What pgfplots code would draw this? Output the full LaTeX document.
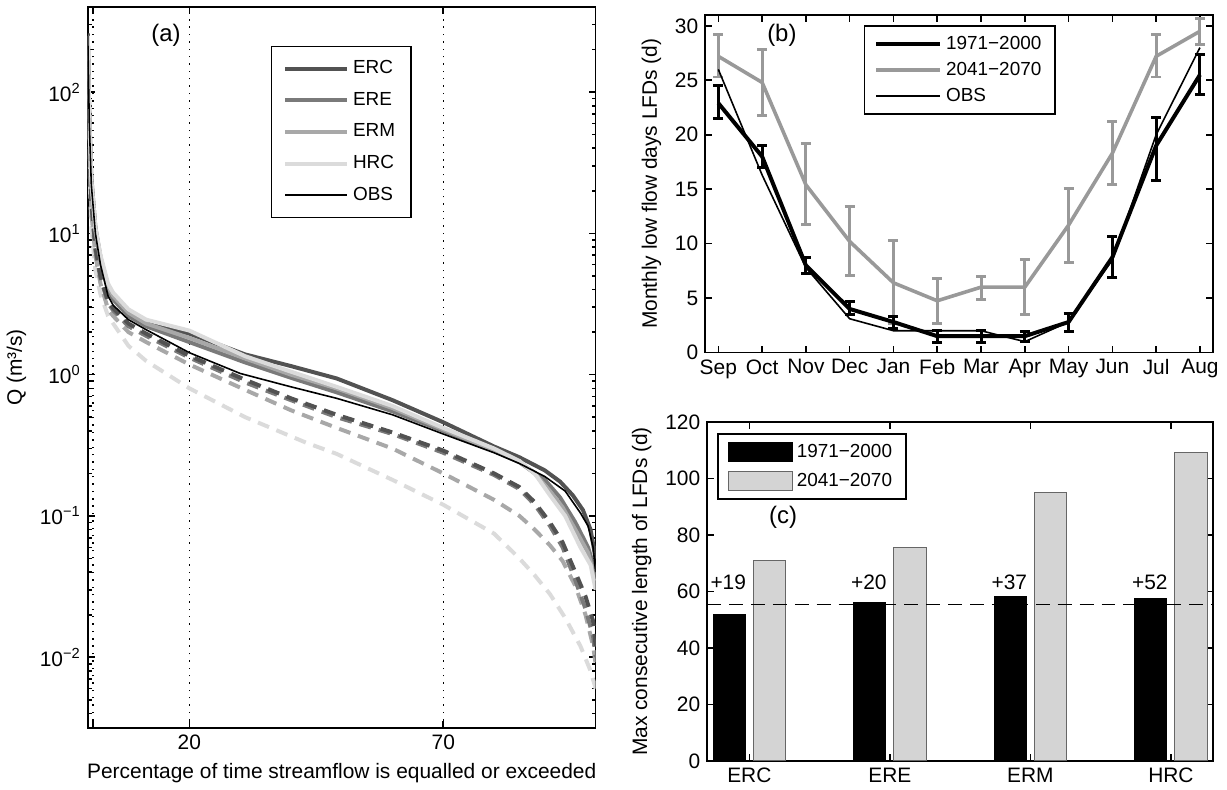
\documentclass[border=0pt]{standalone}
\usepackage{fontspec}
\setmainfont{Liberation Sans}
\usepackage{pgfplots}
\usepackage{pgfplotstable}
\pgfplotsset{compat=1.18}

\definecolor{cERC}{gray}{0.32}
\definecolor{cERE}{gray}{0.48}
\definecolor{cERM}{gray}{0.66}
\definecolor{cHRC}{gray}{0.86}
\definecolor{cfut}{gray}{0.60}
\definecolor{barg}{gray}{0.83}

\newcommand\fa{\fontsize{10.5}{12}\selectfont}
\newcommand\fl{\fontsize{9.5}{11}\selectfont}

% panel (b) data: x, value, error plus, error minus
\pgfplotstableread{
x y ep em
1 22.9 1.6 1.4
2 18.0 1.0 1.0
3 8.0 0.7 0.75
4 4.0 0.65 0.55
5 2.8 0.5 0.6
6 1.5 0.5 0.6
7 1.5 0.5 0.6
8 1.5 0.4 0.5
9 2.8 0.8 0.9
10 8.75 1.9 1.9
11 19.0 2.6 3.2
12 25.5 1.9 1.8
}\tabhist
\pgfplotstableread{
x y ep em
1 27.2 2.0 1.9
2 24.8 3.0 3.05
3 15.4 3.8 3.6
4 10.2 3.2 3.1
5 6.4 3.9 3.7
6 4.75 2.05 2.05
7 6.0 1.0 1.1
8 6.0 2.5 2.55
9 11.7 3.4 3.4
10 18.3 2.9 2.9
11 27.2 2.0 1.9
12 29.5 1.2 1.2
}\tabfut

\begin{document}
\begin{tikzpicture}
\path (0pt,0pt) rectangle (613.5pt,396pt);

\pgfplotsset{
  every axis/.append style={
    scale only axis,
    axis line style={line width=0.8pt},
    tick style={line width=0.8pt, black},
    tick align=inside,
    major tick length=3.5pt,
    minor tick length=2pt,
    tick label style={font=\fa},
    label style={font=\fa},
    /pgf/number format/assume math mode=true,
  },
}

% ---------- (a) flow duration curves ----------
\begin{axis}[
  at={(41.5pt,30.5pt)}, anchor=south west,
  width=255pt, height=362pt,
  ymode=log, xmin=0, xmax=100, ymin=0.00316, ymax=400,
  xtick={1,20,70}, xticklabels={,20,70},
  xmajorgrids, grid style={black, line width=0.7pt, dash pattern=on 0.7pt off 3pt},
  ytick={0.01,0.1,1,10,100},
  yticklabels={10\textsuperscript{−2},10\textsuperscript{−1},10\textsuperscript{0},10\textsuperscript{1},10\textsuperscript{2}},
  minor ytick={0.004,0.005,0.006,0.007,0.008,0.009,0.02,0.03,0.04,0.05,0.06,0.07,0.08,0.09,0.2,0.3,0.4,0.5,0.6,0.7,0.8,0.9,2,3,4,5,6,7,8,9,20,30,40,50,60,70,80,90,200,300},
  xlabel={Percentage of time streamflow is equalled or exceeded},
  ylabel={Q (m³/s)},
  legend style={at={(0.36,0.946)}, anchor=north west, draw=black, line width=0.8pt,
    font=\fl, row sep=3.8pt, inner xsep=6pt, inner ysep=5pt, cells={anchor=west}},
  legend image code/.code={\draw[#1] (0pt,0pt) -- (31pt,0pt);},
]
% future (dashed)
\addplot[cHRC, line width=2pt, dash pattern=on 6pt off 4pt, forget plot] coordinates {
(0,150)(0.3,30)(0.7,11)(1.5,5.5)(2.5,3.7)(4,2.6)(5,2.3)(8,1.6)(11.5,1.25)(20,0.8)(31,0.5)(43,0.33)(49,0.275)(60,0.18)(70,0.12)(80,0.075)(85,0.05)(88,0.038)(91,0.028)(94,0.019)(97,0.012)(99,0.008)(100,0.006)};
\addplot[cERM, line width=2pt, dash pattern=on 6pt off 4pt, forget plot] coordinates {
(0,180)(0.3,38)(0.7,14)(1.5,7)(2.5,4.4)(4,2.9)(5,2.6)(8,2.0)(11.5,1.7)(20,1.18)(31,0.78)(40,0.56)(49,0.42)(60,0.3)(70,0.2)(80,0.13)(85,0.1)(88,0.08)(91,0.062)(93.5,0.048)(96,0.032)(98,0.02)(99.5,0.012)(100,0.009)};
\addplot[cERE, line width=2pt, dash pattern=on 6pt off 4pt, forget plot] coordinates {
(0,200)(0.3,42)(0.7,16)(1.5,7.5)(2.5,4.8)(4,3.2)(5,2.85)(8,2.2)(11.5,1.88)(20,1.32)(31,0.88)(40,0.66)(49,0.5)(60,0.38)(70,0.28)(80,0.195)(85,0.155)(88,0.12)(91,0.085)(93.5,0.06)(96,0.035)(98,0.022)(99.5,0.014)(100,0.01)};
\addplot[cERC, line width=2pt, dash pattern=on 6pt off 4pt, forget plot] coordinates {
(0,200)(0.3,45)(0.7,17)(1.5,8)(2.5,5)(4,3.3)(5,2.95)(8,2.3)(11.5,1.95)(20,1.36)(31,0.92)(40,0.68)(49,0.52)(60,0.39)(70,0.29)(80,0.2)(85,0.16)(88,0.125)(91,0.09)(93.5,0.065)(96,0.04)(98,0.027)(99.5,0.018)(100,0.012)};
% historical (solid)
\addplot[cERC, line width=2pt] coordinates {
(0,260)(0.3,70)(0.7,25)(1.5,11)(2.5,6.8)(4,4.2)(5,3.7)(8,2.8)(11.5,2.35)(20,1.95)(31,1.39)(40,1.15)(49,0.94)(60,0.66)(70,0.46)(80,0.31)(85,0.26)(90,0.21)(93,0.175)(95.5,0.14)(97.5,0.11)(99,0.08)(100,0.05)};
\addlegendentry{ERC}
\addplot[cERE, line width=2pt] coordinates {
(0,250)(0.3,62)(0.7,22)(1.5,10.5)(2.5,6.4)(4,4.0)(5,3.4)(8,2.6)(11.5,2.2)(20,1.7)(31,1.22)(40,0.95)(49,0.75)(60,0.55)(70,0.4)(80,0.29)(85,0.24)(90,0.18)(93,0.135)(96,0.09)(98.5,0.06)(100,0.04)};
\addlegendentry{ERE}
\addplot[cERM, line width=2pt] coordinates {
(0,250)(0.3,65)(0.7,23)(1.5,10.5)(2.5,6.6)(4,4.2)(5,3.6)(8,2.75)(11.5,2.3)(20,1.82)(31,1.3)(40,1.0)(49,0.8)(60,0.58)(70,0.41)(80,0.29)(85,0.24)(88,0.2)(91,0.15)(93.5,0.115)(96,0.08)(98.5,0.055)(100,0.035)};
\addlegendentry{ERM}
\addplot[cHRC, line width=2pt] coordinates {
(0,250)(0.3,65)(0.7,24)(1.5,11)(2.5,7)(4,4.4)(5,3.8)(8,2.9)(11.5,2.45)(20,2.05)(31,1.35)(40,1.05)(49,0.82)(60,0.6)(70,0.42)(80,0.3)(85,0.245)(88,0.2)(91,0.14)(94,0.1)(97,0.06)(99,0.045)(100,0.03)};
\addlegendentry{HRC}
\addplot[black, line width=0.8pt] coordinates {
(0,250)(0.3,60)(0.7,22)(1.5,10)(2.5,6)(4,3.6)(5,3.1)(8,2.45)(11.5,2.08)(20,1.43)(30,1.02)(40,0.82)(49,0.68)(60,0.52)(70,0.38)(80,0.28)(85,0.235)(90,0.19)(94,0.15)(97,0.105)(98.5,0.085)(99.5,0.06)(100,0.04)};
\addlegendentry{OBS}
\node[font=\fontsize{12}{14}\selectfont] at (rel axis cs:0.154,0.96) {(a)};
\end{axis}

% ---------- (b) monthly low flow days ----------
\begin{axis}[
  at={(351.5pt,219pt)}, anchor=south west,
  width=255pt, height=169.5pt,
  xmin=0.7, xmax=12.3, ymin=0, ymax=31,
  xtick={1,...,12},
  xticklabels={Sep,Oct,Nov,Dec,Jan,Feb,Mar,Apr,May,Jun,Jul,Aug},
  ytick={0,5,...,30},
  ylabel={Monthly low flow days LFDs (d)},
  legend style={at={(0.312,0.970)}, anchor=north west, draw=black, line width=0.8pt,
    font=\fl, row sep=1pt, inner xsep=5pt, inner ysep=3pt, cells={anchor=west}},
  legend image code/.code={\draw[#1] (0pt,0pt) -- (32pt,0pt);},
]
\addplot[cfut, line width=1.8pt, forget plot,
  error bars/.cd, y dir=both, y explicit,
  error bar style={line width=1.5pt, cfut},
  error mark options={rotate=90, line width=1.5pt, cfut, mark size=2.5pt}]
  table[x=x, y=y, y error plus=ep, y error minus=em] {\tabfut};
\addplot[black, line width=2pt,
  error bars/.cd, y dir=both, y explicit,
  error bar style={line width=1.5pt, black},
  error mark options={rotate=90, line width=1.5pt, black, mark size=2.5pt}]
  table[x=x, y=y, y error plus=ep, y error minus=em] {\tabhist};
\addlegendentry{1971−2000}
\addlegendimage{cfut, line width=1.8pt}
\addlegendentry{2041−2070}
\addplot[black, line width=0.8pt] coordinates {
(1,26.0)(2,16.3)(3,7.8)(4,3.1)(5,2.0)(6,2.0)(7,2.0)(8,1.0)(9,2.8)(10,8.5)(11,20.0)(12,28.0)};
\addlegendentry{OBS}
\node[font=\fontsize{12}{14}\selectfont] at (rel axis cs:0.151,0.941) {(b)};
\end{axis}

% ---------- (c) max consecutive length ----------
\begin{axis}[
  at={(352.5pt,14pt)}, anchor=south west,
  width=254pt, height=170pt,
  xmin=0.7, xmax=4.3, ymin=0, ymax=120,
  xtick={1,2,3,4}, xticklabels={ERC,ERE,ERM,HRC},
  ytick={0,20,...,120},
  ylabel={Max consecutive length of LFDs (d)},
  legend style={at={(0.0197,0.968)}, anchor=north west, draw=black, line width=0.8pt,
    font=\fl, row sep=2.5pt, inner xsep=5pt, inner ysep=3pt, cells={anchor=west}},
  legend image code/.code={\draw[#1] (0pt,-4.8pt) rectangle (32pt,4.8pt);},
]
\addplot[ybar, bar width=0.23, bar shift=-0.143, fill=black, draw=black, line width=0.5pt]
  coordinates {(1,52)(2,56)(3,58.2)(4,57.5)};
\addlegendentry{1971−2000}
\addplot[ybar, bar width=0.23, bar shift=0.143, fill=barg, draw=black!60, line width=0.6pt]
  coordinates {(1,71)(2,75.7)(3,95.2)(4,109.2)};
\addlegendentry{2041−2070}
\addplot[black, line width=0.5pt, dash pattern=on 7pt off 4pt, forget plot]
  coordinates {(0.7,55.3)(4.3,55.3)};
\node[font=\fa] at (axis cs:0.85,63.2) {+19};
\node[font=\fa] at (axis cs:1.85,63.2) {+20};
\node[font=\fa] at (axis cs:2.85,63.2) {+37};
\node[font=\fa] at (axis cs:3.85,63.2) {+52};
\node[font=\fontsize{12}{14}\selectfont] at (rel axis cs:0.15,0.718) {(c)};
\end{axis}
\end{tikzpicture}
\end{document}
